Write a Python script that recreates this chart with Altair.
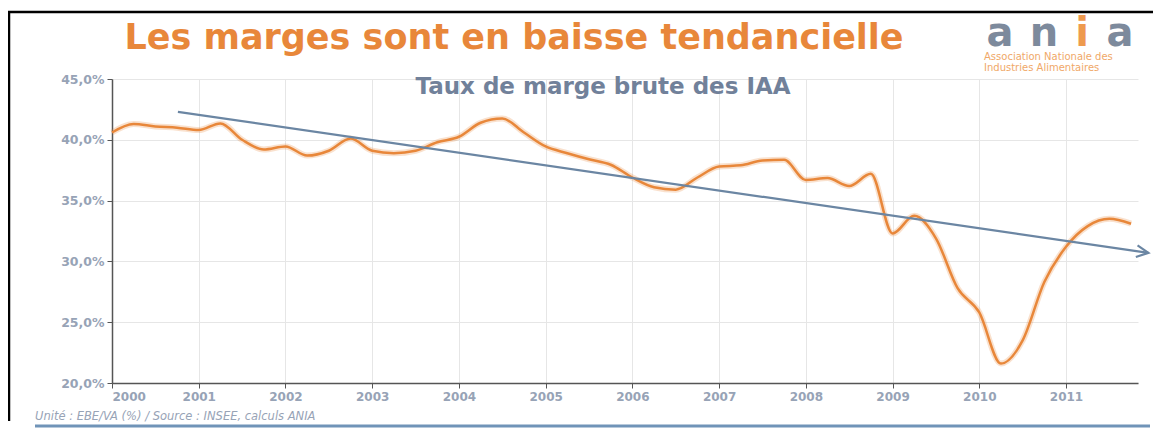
import altair as alt
import pandas as pd

# ---------------- data ----------------
quarters = [f"{y}T{q}" for y in range(2000, 2012) for q in range(1, 5)]
marge = [
    40.6, 41.3, 41.1, 41.0,
    40.8, 41.35, 40.0, 39.2,
    39.45, 38.7, 39.1, 40.1,
    39.1, 38.9, 39.1, 39.8,
    40.25, 41.4, 41.75, 40.6,
    39.45, 38.9, 38.4, 37.95,
    36.9, 36.1, 35.9, 36.9,
    37.8, 37.9, 38.3, 38.35,
    36.7, 36.85, 36.2, 37.2,
    32.3, 33.75, 31.9, 27.8,
    25.8, 21.6, 23.5, 28.3,
    31.2, 32.9, 33.5, 33.1,
]
trend_t = [2000.76, 2011.95]
trend_v = [42.3, 30.7]
year_ticks = list(range(2000, 2012))
pct_ticks = [20, 25, 30, 35, 40, 45]

df = pd.DataFrame({
    "periode": quarters,
    "t": [int(p[:4]) + (int(p[-1]) - 1) / 4 for p in quarters],
    "v": marge,
})
trend = pd.DataFrame({"t": trend_t, "v": trend_v})
tip = trend.tail(1)

W, H = 1026, 304
ORANGE = "#E8873A"
SLATE = "#6B86A3"
LABEL = "#97A3B6"

xs = alt.Scale(domain=[2000, 2011.83], nice=False, zero=False)
ys = alt.Scale(domain=[20, 45], nice=False, zero=False)

xax = alt.Axis(values=year_ticks, format="d", title=None, grid=True,
               gridColor="#E6E6E6", domainColor="#555555", domainWidth=1.5,
               tickColor="#555555", tickSize=5, labelColor=LABEL, labelFontSize=12,
               labelFont="DejaVu Sans", labelFontWeight="bold", labelPadding=3)
yax = alt.Axis(values=pct_ticks, title=None, grid=True, gridColor="#E6E6E6",
               labelExpr="replace(format(datum.value, '.1f'), '.', ',') + '%'",
               domainColor="#555555", domainWidth=1.5, tickColor="#555555", tickSize=5,
               labelColor=LABEL, labelFontSize=12.5, labelFont="DejaVu Sans",
               labelFontWeight="bold", labelPadding=3)

base = alt.Chart(df)
halo = base.mark_line(color=ORANGE, strokeWidth=6, opacity=0.25, interpolate="monotone").encode(
    x=alt.X("t:Q", scale=xs, axis=xax), y=alt.Y("v:Q", scale=ys, axis=yax))
line = base.mark_line(color=ORANGE, strokeWidth=2.5, interpolate="monotone").encode(
    x=alt.X("t:Q", scale=xs), y=alt.Y("v:Q", scale=ys))

tline = alt.Chart(trend).mark_line(color=SLATE, strokeWidth=2.2, clip=False).encode(
    x=alt.X("t:Q", scale=xs), y=alt.Y("v:Q", scale=ys))
thead = alt.Chart(tip).mark_point(shape="M-1,-0.5L0,0L-1,0.5", filled=False, color=SLATE,
                                  strokeWidth=2.2, size=560, angle=8.3, opacity=1,
                                  clip=False).encode(
    x=alt.X("t:Q", scale=xs), y=alt.Y("v:Q", scale=ys))

one = pd.DataFrame({"k": [0]})


def txt(text, x, y, **kw):
    return alt.Chart(one).mark_text(text=text, **kw).encode(x=alt.value(x), y=alt.value(y))


title = txt("Les marges sont en baisse tendancielle", 402, -30, color=ORANGE,
            font="DejaVu Sans", fontWeight="bold", fontSize=35, align="center", baseline="alphabetic")
subtitle = txt("Taux de marge brute des IAA", 491, 15, color="#71819A",
               font="DejaVu Sans", fontWeight="bold", fontSize=23, align="center", baseline="alphabetic")
LOGO_GRAY = "#7D8A9C"
logo = alt.layer(
    txt("a", 888, -33, color=LOGO_GRAY, font="DejaVu Sans", fontWeight="bold", fontSize=40, align="center", baseline="alphabetic"),
    txt("n", 932, -33, color=LOGO_GRAY, font="DejaVu Sans", fontWeight="bold", fontSize=40, align="center", baseline="alphabetic"),
    txt("i", 970, -33, color="#EE9A4E", font="DejaVu Sans", fontWeight="bold", fontSize=40, align="center", baseline="alphabetic"),
    txt("a", 1008, -33, color=LOGO_GRAY, font="DejaVu Sans", fontWeight="bold", fontSize=40, align="center", baseline="alphabetic"),
    txt("Association Nationale des", 872, -19, color="#F0A868", font="DejaVu Sans", fontSize=10, align="left", baseline="alphabetic"),
    txt("Industries Alimentaires", 872, -8, color="#F0A868", font="DejaVu Sans", fontSize=10, align="left", baseline="alphabetic"),
)
footer = txt("Unité : EBE/VA (%) / Source : INSEE, calculs ANIA", -77, 341, color=LABEL,
             font="DejaVu Sans", fontStyle="italic", fontSize=11.5, align="left", baseline="alphabetic")

frame_left = alt.Chart(one).mark_rule(color="black", strokeWidth=2.5).encode(
    x=alt.value(-103), y=alt.value(-67), y2=alt.value(342))
frame_top = alt.Chart(one).mark_rule(color="black", strokeWidth=2.5).encode(
    x=alt.value(-104), x2=alt.value(1041), y=alt.value(-67))
bar = alt.Chart(one).mark_rule(color="#7094B8", strokeWidth=3).encode(
    x=alt.value(-77), x2=alt.value(1038), y=alt.value(347))

chart = alt.layer(
    halo, line, tline, thead, title, subtitle, logo, footer, frame_left, frame_top, bar
).properties(
    width=W, height=H,
    autosize=alt.AutoSizeParams(type="none"),
    padding={"left": 104, "top": 71, "right": 15, "bottom": 46},
    background="white",
).configure_view(strokeWidth=0)

chart.save("out.html", embed_options={"renderer": "svg", "actions": False})
